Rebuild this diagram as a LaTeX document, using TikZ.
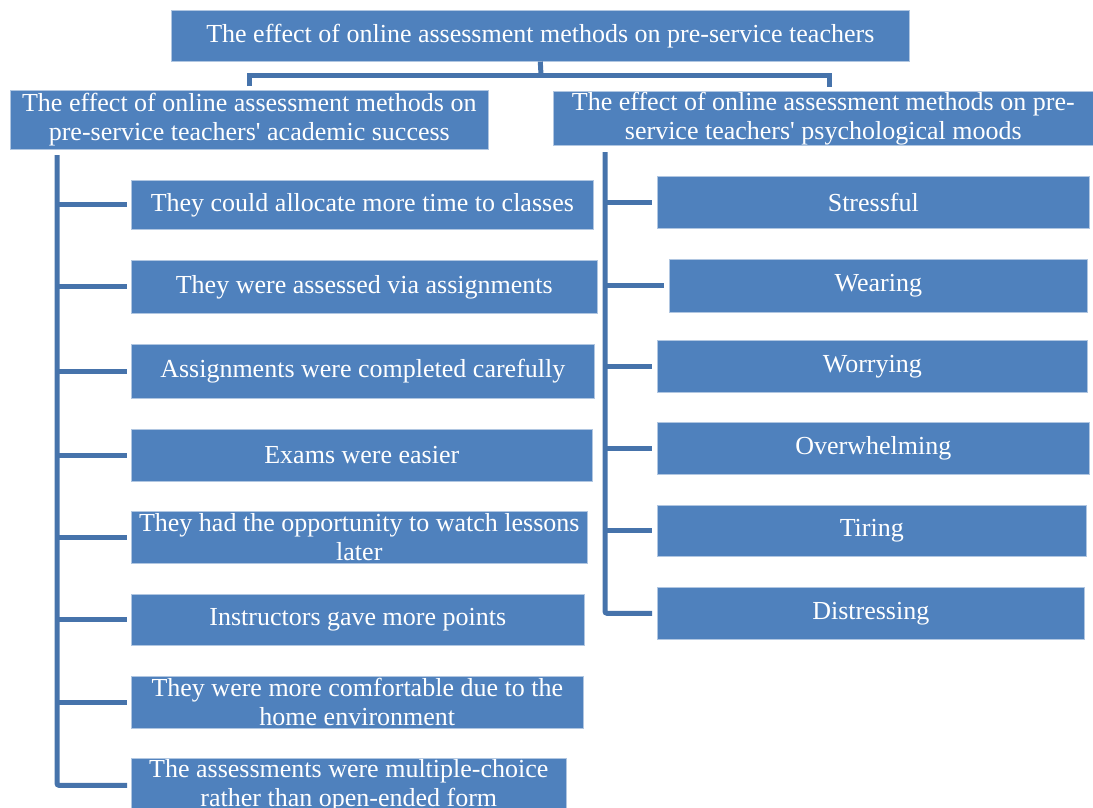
\documentclass[tikz,border=0pt]{standalone}
\usepackage{fontspec}
\setmainfont{Liberation Serif}

\definecolor{boxblue}{HTML}{4F81BD}
\definecolor{linkblue}{HTML}{4673AB}

\tikzset{
  box/.style={fill=boxblue, draw=boxblue!45, line width=0.6pt, text=white,
    anchor=north west, inner sep=0pt, align=center,
    font=\fontsize{26}{29}\selectfont},
  link/.style={draw=linkblue, line width=5pt},
}

\begin{document}
\begin{tikzpicture}[x=1pt,y=-1pt]
    \useasboundingbox (0,0) rectangle (1093,807);

    % headings
    \node[box, minimum width=738pt, minimum height=51pt] (top) at (171,10)
        {The effect of online assessment methods on pre-service teachers};
    \node[box, minimum width=478pt, minimum height=59pt] (acad) at (10,90)
        {The effect of online assessment methods on\\pre-service teachers\textquotesingle{} academic success};
    \node[box, minimum width=540pt, minimum height=54pt] (psych) at (553,91)
        {The effect of online assessment methods on pre-\\service teachers\textquotesingle{} psychological moods};

    % academic success
    \foreach \i/\y/\w/\h/\txt in {
        1/180/462/49/{They could allocate more time to classes},
        2/260/466/53/{They were assessed via assignments},
        3/344/463/54/{Assignments were completed carefully},
        4/429/461/52/{Exams were easier},
        5/511/456/52/{They had the opportunity to watch lessons\\later},
        6/594/453/51/{Instructors gave more points},
        7/676/452/52/{They were more comfortable due to the\\home environment},
        8/758/435/54/{The assessments were multiple-choice\\rather than open-ended form}}
        \node[box, minimum width=\w pt, minimum height=\h pt] (a\i) at (131,\y) {\txt};

    % psychological moods
    \foreach \i/\x/\y/\w/\h/\txt in {
        1/657/176/432/52/Stressful,
        2/669/259/418/53/Wearing,
        3/657/340/430/52/Worrying,
        4/657/422/432/52/Overwhelming,
        5/657/505/429/51/Tiring,
        6/657/587/427/52/Distressing}
        \node[box, minimum width=\w pt, minimum height=\h pt] (p\i) at (\x,\y) {\txt};

    % bracket under the title
    \coordinate (fork) at (541,75);
    \draw[link] (top.south) -- (fork);
    \draw[link, shorten <=4pt, shorten >=4pt] (acad.north) |- (fork) -| ([xshift=6pt]psych.north);

    % spines
    \coordinate (lspine) at (57,155);
    \coordinate (rspine) at (605,152);
    \draw[link, rounded corners=2pt, shorten >=4pt] (lspine) |- (a8.west);
    \foreach \i in {1,...,7}
        \draw[link, shorten >=4pt] (lspine |- a\i.west) -- (a\i.west);
    \draw[link, rounded corners=2pt, shorten >=5pt] (rspine) |- (p6.west);
    \foreach \i in {1,...,5}
        \draw[link, shorten >=5pt] (rspine |- p\i.west) -- (p\i.west);
\end{tikzpicture}
\end{document}
